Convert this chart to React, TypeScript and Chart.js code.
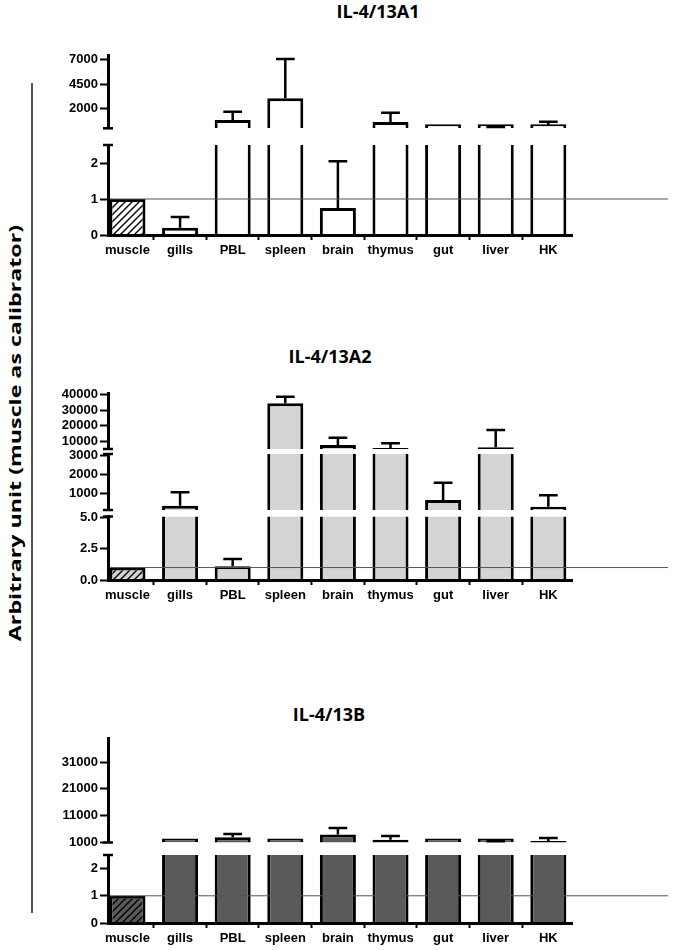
import React, { useEffect, useRef } from 'react';
import { Chart, registerables } from 'chart.js';

Chart.register(...registerables);

// ---------- data ----------
const CATEGORIES = ['muscle', 'gills', 'PBL', 'spleen', 'brain', 'thymus', 'gut', 'liver', 'HK'];

// IL-4/13A1
const A1_MEANS = [1, 0.2, 850, 3050, 0.75, 640, 60, 70, 265];
const A1_ERRORS = [null, 0.5, 1690, 7040, 2.05, 1585, null, 130, 670];
const A1_LOWER_RANGE = [0, 2.5];
const A1_UPPER_RANGE = [0, 7450];
const A1_LOWER_TICKS = [0, 1, 2];
const A1_UPPER_TICKS = [2000, 4500, 7000];

// IL-4/13A2
const A2_MEANS = [1, 330, 1.1, 34400, 7600, 5600, 635, 6100, 280];
const A2_ERRORS = [null, 1050, 1.68, 38600, 12300, 8700, 1560, 17200, 890];
const A2_LOWER_RANGE = [0, 5.1];
const A2_MIDDLE_RANGE = [100, 3100];
const A2_UPPER_RANGE = [5000, 41000];
const A2_LOWER_TICKS = [0, 2.5, 5];
const A2_MIDDLE_TICKS = [1000, 2000, 3000];
const A2_UPPER_TICKS = [10000, 20000, 30000, 40000];

// IL-4/13B
const B_MEANS = [1, 1040, 3000, 1100, 4000, 2000, 1030, 1100, 1600];
const B_ERRORS = [null, null, 4150, null, 6400, 3400, null, 1500, 2700];
const B_LOWER_RANGE = [0, 2.5];
const B_UPPER_RANGE = [1000, 40000];
const B_LOWER_TICKS = [0, 1, 2];
const B_UPPER_TICKS = [1000, 11000, 21000, 31000];

const CALIBRATOR = 1;

// ---------- layout / style ----------
const X_MIN = -0.37;
const X_MAX = 8.45;
const AXIS_LEFT = 108;
const PLOT_RIGHT_PAD = 103;
const X_AXIS_HEIGHT = 25;
const TICK_FONT = { family: '"Liberation Sans", Arial, sans-serif', size: 13, weight: 'bold' as const };

type Seg = { range: number[]; ticks: number[]; px: number; decimals: number };
type PanelCfg = {
  means: number[];
  errors: (number | null)[];
  segs: Seg[];
  gaps: number[];
  fill: string;
};

const PANEL_A1: PanelCfg = {
  means: A1_MEANS,
  errors: A1_ERRORS,
  segs: [
    { range: A1_LOWER_RANGE, ticks: A1_LOWER_TICKS, px: 90, decimals: 0 },
    { range: A1_UPPER_RANGE, ticks: A1_UPPER_TICKS, px: 73.3, decimals: 0 },
  ],
  gaps: [16.7],
  fill: '#ffffff',
};

const PANEL_A2: PanelCfg = {
  means: A2_MEANS,
  errors: A2_ERRORS,
  segs: [
    { range: A2_LOWER_RANGE, ticks: A2_LOWER_TICKS, px: 63.5, decimals: 1 },
    { range: A2_MIDDLE_RANGE, ticks: A2_MIDDLE_TICKS, px: 56, decimals: 0 },
    { range: A2_UPPER_RANGE, ticks: A2_UPPER_TICKS, px: 56, decimals: 0 },
  ],
  gaps: [6.5, 5],
  fill: '#d4d4d4',
};

const PANEL_B: PanelCfg = {
  means: B_MEANS,
  errors: B_ERRORS,
  segs: [
    { range: B_LOWER_RANGE, ticks: B_LOWER_TICKS, px: 68, decimals: 0 },
    { range: B_UPPER_RANGE, ticks: B_UPPER_TICKS, px: 104.5, decimals: 0 },
  ],
  gaps: [12.5],
  fill: '#5a5a5a',
};

function hatch(bg: string): CanvasPattern | string {
  const c = document.createElement('canvas');
  c.width = 7;
  c.height = 7;
  const g = c.getContext('2d');
  if (!g) return bg;
  g.fillStyle = bg;
  g.fillRect(0, 0, 7, 7);
  g.strokeStyle = '#000';
  g.lineWidth = 1.4;
  g.beginPath();
  g.moveTo(0, 7);
  g.lineTo(7, 0);
  g.moveTo(-1, 1);
  g.lineTo(1, -1);
  g.moveTo(6, 8);
  g.lineTo(8, 6);
  g.stroke();
  return g.createPattern(c, 'repeat') || bg;
}

function segIndexFor(cfg: PanelCfg, v: number) {
  let k = 0;
  for (let j = 1; j < cfg.segs.length; j++) {
    if (v > cfg.segs[j - 1].range[1]) k = j;
  }
  return k;
}

function buildConfig(cfg: PanelCfg): any {
  const n = cfg.segs.length;
  const pattern = hatch(cfg.fill);
  const bg = CATEGORIES.map((_, i) => (i === 0 ? pattern : cfg.fill));

  const datasets = cfg.segs.map((seg, k) => ({
    type: 'bar',
    yAxisID: 'y' + k,
    data: CATEGORIES.map((_, i) => ({
      x: i,
      y: k === 0 || cfg.means[i] > cfg.segs[k - 1].range[1] ? cfg.means[i] : null,
    })),
    backgroundColor: bg,
    borderColor: '#000',
    borderWidth: 3,
    borderSkipped: 'start',
    minBarLength: 4,
    grouped: false,
    barPercentage: 0.685,
    categoryPercentage: 1,
  }));

  const scales: any = {
    x: {
      type: 'linear',
      min: X_MIN,
      max: X_MAX,
      offset: false,
      afterBuildTicks: (s: any) => {
        s.ticks = CATEGORIES.map((_, i) => ({ value: i }));
      },
      afterFit: (s: any) => {
        s.height = X_AXIS_HEIGHT;
      },
      ticks: {
        autoSkip: false,
        maxRotation: 0,
        minRotation: 0,
        padding: 3,
        color: '#000',
        font: TICK_FONT,
        callback: (_v: any, idx: number) => CATEGORIES[idx] ?? '',
      },
      grid: { drawOnChartArea: false, drawTicks: true, tickLength: 5, tickWidth: 2, tickColor: '#000' },
      border: { display: true, color: '#000', width: 3, z: 1 },
    },
  };

  let w = 0;
  cfg.segs.forEach((seg, k) => {
    scales['y' + k] = {
      type: 'linear',
      position: 'left',
      stack: 'panel',
      stackWeight: seg.px,
      weight: w++,
      min: seg.range[0],
      max: seg.range[1],
      afterBuildTicks: (s: any) => {
        s.ticks = seg.ticks.map((v) => ({ value: v }));
      },
      afterFit: (s: any) => {
        s.width = AXIS_LEFT;
      },
      ticks: {
        autoSkip: false,
        padding: 2,
        color: '#000',
        font: TICK_FONT,
        callback: (v: any) => Number(v).toFixed(seg.decimals),
      },
      grid: { drawOnChartArea: false, drawTicks: true, tickLength: 8, tickWidth: 2, tickColor: '#000' },
      border: { display: true, color: '#000', width: 3, z: 1 },
    };
    if (k < n - 1) {
      scales['g' + k] = {
        type: 'linear',
        position: 'left',
        stack: 'panel',
        stackWeight: cfg.gaps[k],
        weight: w++,
        min: 0,
        max: 1,
        afterBuildTicks: (s: any) => {
          s.ticks = [];
        },
        afterFit: (s: any) => {
          s.width = AXIS_LEFT;
        },
        ticks: { display: false },
        grid: { display: false },
        border: { display: false },
      };
    }
  });

  const segmentClip = {
    id: 'segmentClip',
    beforeDatasetDraw(chart: any, args: any) {
      const s = args.meta.yScale;
      const ctx = chart.ctx;
      ctx.save();
      ctx.beginPath();
      ctx.rect(0, s.top, chart.width, s.bottom - s.top);
      ctx.clip();
    },
    afterDatasetDraw(chart: any) {
      chart.ctx.restore();
    },
  };

  const extras = {
    id: 'extras',
    afterDatasetsDraw(chart: any) {
      const ctx = chart.ctx;
      const area = chart.chartArea;
      const base = chart.getDatasetMeta(0).data;
      ctx.save();
      // error bars (upper whisker)
      ctx.strokeStyle = '#000';
      ctx.lineWidth = 2.5;
      cfg.errors.forEach((e, i) => {
        if (e === null || e === undefined) return;
        const v = cfg.means[i];
        const k = segIndexFor(cfg, v);
        const s = chart.scales['y' + k];
        const bar = base[i];
        const x = bar.x;
        const half = bar.width * 0.26;
        const pv = s.getPixelForValue(v);
        const pe = s.getPixelForValue(e);
        ctx.beginPath();
        ctx.moveTo(x, pv);
        ctx.lineTo(x, pe);
        ctx.moveTo(x - half, pe);
        ctx.lineTo(x + half, pe);
        ctx.stroke();
      });
      // calibrator line
      const y0 = chart.scales.y0.getPixelForValue(CALIBRATOR);
      ctx.strokeStyle = '#555';
      ctx.lineWidth = 1;
      ctx.beginPath();
      ctx.moveTo(area.left, y0);
      ctx.lineTo(chart.width - 7, y0);
      ctx.stroke();
      ctx.restore();
    },
    afterDraw(chart: any) {
      const ctx = chart.ctx;
      const ax = chart.chartArea.left;
      ctx.save();
      ctx.strokeStyle = '#000';
      ctx.lineWidth = 2.5;
      for (let k = 0; k < n; k++) {
        const s = chart.scales['y' + k];
        const caps: number[] = [];
        if (k > 0) caps.push(s.bottom);
        if (k < n - 1) caps.push(s.top);
        caps.forEach((y) => {
          ctx.beginPath();
          ctx.moveTo(ax - 5, y);
          ctx.lineTo(ax + 5, y);
          ctx.stroke();
        });
      }
      ctx.restore();
    },
  };

  return {
    type: 'bar',
    data: { datasets },
    options: {
      responsive: false,
      animation: false,
      devicePixelRatio: 1,
      layout: { padding: { left: 0, right: PLOT_RIGHT_PAD, top: 15, bottom: 0 } },
      plugins: { legend: { display: false }, tooltip: { enabled: false }, title: { display: false } },
      scales,
    },
    plugins: [segmentClip, extras],
  };
}

function Panel({ cfg, top, height }: { cfg: PanelCfg; top: number; height: number }) {
  const ref = useRef<HTMLCanvasElement>(null);
  useEffect(() => {
    if (!ref.current) return;
    const chart = new Chart(ref.current, buildConfig(cfg));
    return () => chart.destroy();
  }, [cfg]);
  return (
    <canvas
      ref={ref}
      width={675}
      height={height}
      style={{ position: 'absolute', left: 0, top, width: 675, height, display: 'block' }}
    />
  );
}

const titleStyle = (centerX: number, top: number): React.CSSProperties => ({
  position: 'absolute',
  left: centerX - 100,
  top,
  width: 200,
  textAlign: 'center',
  fontFamily: '"Open Sans", sans-serif',
  fontWeight: 700,
  fontSize: 18,
  lineHeight: '24px',
  color: '#000',
});

export default function App() {
  return (
    <div style={{ position: 'absolute', left: 0, top: 0, width: 675, height: 950, overflow: 'hidden', background: '#fff' }}>
      <div
        style={{
          position: 'absolute',
          left: 15 - 210,
          top: 433 - 10,
          width: 420,
          height: 20,
          lineHeight: '20px',
          textAlign: 'center',
          whiteSpace: 'nowrap',
          fontFamily: '"Open Sans", sans-serif',
          fontWeight: 700,
          fontSize: 16,
          color: '#000',
          transform: 'rotate(-90deg) scaleX(1.45)',
        }}
      >
        Arbitrary unit (muscle as calibrator)
      </div>
      <div style={{ position: 'absolute', left: 31, top: 83, width: 1.5, height: 830, background: '#555' }} />

      <div style={titleStyle(378, -1)}>IL-4/13A1</div>
      <Panel cfg={PANEL_A1} top={40} height={220} />

      <div style={titleStyle(330, 344)}>IL-4/13A2</div>
      <Panel cfg={PANEL_A2} top={378} height={227} />

      <div style={titleStyle(329, 702)}>IL-4/13B</div>
      <Panel cfg={PANEL_B} top={723} height={225} />
    </div>
  );
}
